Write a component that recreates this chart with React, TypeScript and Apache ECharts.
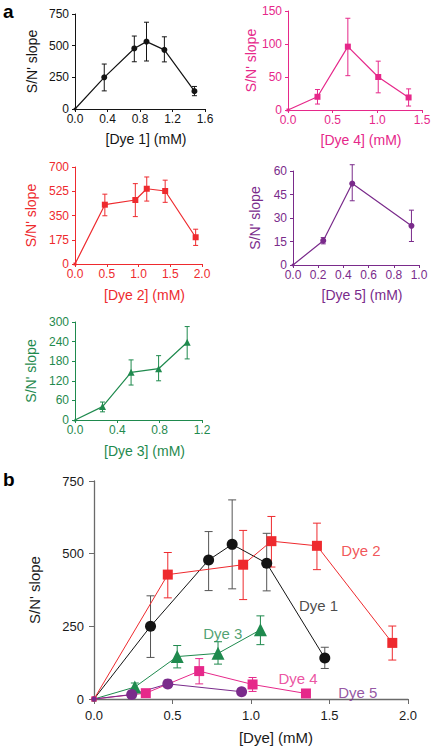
import React, { useEffect, useRef } from "react";
import * as echarts from "echarts";

const FONT = "'Liberation Sans', Arial, Helvetica, sans-serif";

// ---- data (concentration in mM, S/N' slope) ----
const dye1X = [0, 0.36, 0.73, 0.88, 1.1, 1.47];
const dye1Y = [0, 250, 478, 532, 467, 141];
const dye1Lo = [0, 143, 373, 379, 372, 105];
const dye1Hi = [0, 355, 576, 685, 570, 178];

const dye2X = [0, 0.47, 0.95, 1.13, 1.42, 1.9];
const dye2Y = [0, 428, 462, 543, 527, 193];
const dye2Lo = [0, 348, 342, 454, 445, 134];
const dye2Hi = [0, 504, 580, 628, 605, 251];

const dye3X = [0, 0.26, 0.53, 0.79, 1.06];
const dye3Y = [0, 41, 146, 157, 238];
const dye3Lo = [0, 25, 107, 120, 187];
const dye3Hi = [0, 55, 184, 197, 286];

const dye4X = [0, 0.33, 0.67, 1.01, 1.35];
const dye4Y = [0, 20, 96, 50, 19];
const dye4Lo = [0, 9, 52, 26, 6];
const dye4Hi = [0, 31, 139, 74, 32];

const dye5X = [0, 0.24, 0.47, 0.94];
const dye5Y = [0, 15.5, 52, 25];
const dye5Lo = [0, 13.5, 41, 15];
const dye5Hi = [0, 17.5, 64, 35];

const dyeNames = ["Dye 1", "Dye 2", "Dye 3", "Dye 4", "Dye 5"];
const dyeColors = ["#141414", "#ee2a2e", "#1f8a4e", "#e6288a", "#7a2b8b"];
const dyeSymbols = ["circle", "rect", "triangle", "rect", "circle"];

// panel a axis ranges
const aXMax = [1.6, 2.0, 1.2, 1.5, 1.0];
const aXInterval = [0.4, 0.5, 0.4, 0.5, 0.2];
const aYMax = [750, 700, 300, 150, 60];
const aYInterval = [250, 175, 60, 50, 15];

// panel b label anchors (data units)
const bLabelX = [1.43, 1.7, 0.82, 1.3, 1.68];
const bLabelY = [323, 512, 227, 72, 24];

const dyes = [
  { x: dye1X, y: dye1Y, lo: dye1Lo, hi: dye1Hi },
  { x: dye2X, y: dye2Y, lo: dye2Lo, hi: dye2Hi },
  { x: dye3X, y: dye3Y, lo: dye3Lo, hi: dye3Hi },
  { x: dye4X, y: dye4Y, lo: dye4Lo, hi: dye4Hi },
  { x: dye5X, y: dye5Y, lo: dye5Lo, hi: dye5Hi },
];

// layout of panel a grids (order: dye1, dye2, dye3, dye4, dye5)
const aGrids = [
  { left: 75, top: 14, width: 130, height: 95, nameGapY: 36, nameGapX: 23 },
  { left: 75, top: 167, width: 127, height: 97, nameGapY: 37, nameGapX: 24 },
  { left: 75, top: 322, width: 127, height: 98, nameGapY: 37, nameGapX: 24 },
  { left: 288, top: 11, width: 134, height: 99, nameGapY: 29, nameGapX: 23 },
  { left: 293, top: 171, width: 126, height: 94, nameGapY: 31, nameGapX: 23 },
];

const errRender = (cap: number, color: string, width: number) => (params: any, api: any) => {
  const x = api.value(0);
  const lo = api.value(1);
  const hi = api.value(2);
  const a = api.coord([x, hi]);
  const b = api.coord([x, lo]);
  const style = { stroke: color, lineWidth: width };
  return {
    type: "group",
    children: [
      { type: "line", shape: { x1: a[0], y1: a[1], x2: b[0], y2: b[1] }, style },
      { type: "line", shape: { x1: a[0] - cap, y1: a[1], x2: a[0] + cap, y2: a[1] }, style },
      { type: "line", shape: { x1: b[0] - cap, y1: b[1], x2: b[0] + cap, y2: b[1] }, style },
    ],
  };
};

export default function App() {
  const ref = useRef<HTMLDivElement>(null);
  useEffect(() => {
    document.body.style.margin = "0";
    const chart = echarts.init(ref.current!, null, { renderer: "svg" });

    const grid: any[] = [];
    const xAxis: any[] = [];
    const yAxis: any[] = [];
    const series: any[] = [];

    dyes.forEach((d, i) => {
      const g = aGrids[i];
      const c = dyeColors[i];
      grid.push({ left: g.left, top: g.top, width: g.width, height: g.height, containLabel: false, outerBoundsMode: "none" });
      xAxis.push({
        type: "value",
        gridIndex: i,
        min: 0,
        max: aXMax[i],
        interval: aXInterval[i],
        name: "[" + dyeNames[i] + "] (mM)",
        nameLocation: "middle",
        nameGap: g.nameGapX,
        nameTextStyle: { color: c, fontSize: 14, fontFamily: FONT, padding: [0, 0, 0, 12] },
        axisLine: { show: true, onZero: false, lineStyle: { color: c, width: 1 } },
        axisTick: { show: true, length: 3, lineStyle: { color: c } },
        axisLabel: { color: c, fontSize: 12, fontFamily: FONT, margin: 4, formatter: (v: number) => v.toFixed(1) },
        splitLine: { show: false },
      });
      yAxis.push({
        type: "value",
        gridIndex: i,
        min: 0,
        max: aYMax[i],
        interval: aYInterval[i],
        name: "S/N' slope",
        nameLocation: "middle",
        nameRotate: 90,
        nameGap: g.nameGapY,
        nameTextStyle: { color: c, fontSize: 14, fontFamily: FONT },
        axisLine: { show: true, onZero: false, lineStyle: { color: c, width: 1 } },
        axisTick: { show: true, length: 3, lineStyle: { color: c } },
        axisLabel: { color: c, fontSize: 12, fontFamily: FONT, margin: 6 },
        splitLine: { show: false },
      });
      series.push({
        type: "custom",
        xAxisIndex: i,
        yAxisIndex: i,
        silent: true,
        z: 1,
        renderItem: errRender(2.5, c, 1),
        encode: { x: 0, y: [1, 2] },
        data: d.x.map((xv, k) => [xv, d.lo[k], d.hi[k]]).slice(1),
      });
      series.push({
        type: "line",
        xAxisIndex: i,
        yAxisIndex: i,
        z: 2,
        symbol: dyeSymbols[i],
        symbolSize: (_v: any, p: any) => (p.dataIndex === 0 ? 3 : dyeSymbols[i] === "triangle" ? 7 : 6),
        showSymbol: true,
        lineStyle: { color: c, width: 1.2 },
        itemStyle: { color: c },
        data: d.x.map((xv, k) => [xv, d.y[k]]),
      });
    });

    // panel b
    const bi = 5;
    const axisGray = "#6a6a6a";
    grid.push({ left: 94, top: 481, width: 314, height: 218, containLabel: false, outerBoundsMode: "none" });
    xAxis.push({
      type: "value",
      gridIndex: bi,
      min: 0,
      max: 2,
      interval: 0.5,
      name: "[Dye] (mM)",
      nameLocation: "middle",
      nameGap: 31,
      nameTextStyle: { color: "#1a1a1a", fontSize: 15, fontFamily: FONT, padding: [0, 0, 0, 50] },
      axisLine: { show: true, onZero: false, lineStyle: { color: axisGray, width: 1.3 } },
      axisTick: { show: true, length: 5, lineStyle: { color: axisGray } },
      axisLabel: { color: "#1a1a1a", fontSize: 13, fontFamily: FONT, margin: 10, formatter: (v: number) => v.toFixed(1) },
      splitLine: { show: false },
    });
    yAxis.push({
      type: "value",
      gridIndex: bi,
      min: 0,
      max: 750,
      interval: 250,
      name: "S/N' slope",
      nameLocation: "middle",
      nameRotate: 90,
      nameGap: 52,
      nameTextStyle: { color: "#1a1a1a", fontSize: 15, fontFamily: FONT },
      axisLine: { show: true, onZero: false, lineStyle: { color: axisGray, width: 1.3 } },
      axisTick: { show: true, length: 5, lineStyle: { color: axisGray } },
      axisLabel: { color: "#1a1a1a", fontSize: 13, fontFamily: FONT, margin: 10 },
      splitLine: { show: false },
    });
    dyes.forEach((d, i) => {
      const c = dyeColors[i];
      series.push({
        type: "custom",
        xAxisIndex: bi,
        yAxisIndex: bi,
        silent: true,
        z: 1,
        renderItem: errRender(4, i === 0 ? "#555555" : c, 1),
        encode: { x: 0, y: [1, 2] },
        data: d.x.map((xv, k) => [xv, d.lo[k], d.hi[k]]).slice(1),
      });
    });
    dyes.forEach((d, i) => {
      const c = dyeColors[i];
      series.push({
        type: "line",
        xAxisIndex: bi,
        yAxisIndex: bi,
        z: 3,
        symbol: dyeSymbols[i],
        symbolSize: (_v: any, p: any) =>
          p.dataIndex === 0 ? 5 : dyeSymbols[i] === "triangle" ? 13 : dyeSymbols[i] === "rect" ? 10 : 11,
        showSymbol: true,
        lineStyle: { color: c, width: 1 },
        itemStyle: { color: c },
        data: d.x.map((xv, k) => [xv, d.y[k]]),
      });
    });
    series.push({
      type: "scatter",
      xAxisIndex: bi,
      yAxisIndex: bi,
      silent: true,
      symbolSize: 0,
      z: 4,
      data: bLabelX.map((xv, k) => ({
        value: [xv, bLabelY[k]],
        label: {
          show: true,
          position: "inside",
          formatter: dyeNames[k],
          color: dyeColors[k] === "#141414" ? "#1a1a1a" : dyeColors[k],
          fontSize: 15,
          fontFamily: FONT,
        },
      })),
    });

    chart.setOption({
      animation: false,
      backgroundColor: "#ffffff",
      grid,
      xAxis,
      yAxis,
      series,
      graphic: [
        { type: "text", left: 3, top: 2, style: { text: "a", fontSize: 19, fontWeight: "bold", fontFamily: FONT, fill: "#000" } },
        { type: "text", left: 3, top: 470, style: { text: "b", fontSize: 19, fontWeight: "bold", fontFamily: FONT, fill: "#000" } },
      ],
    });
    return () => chart.dispose();
  }, []);
  return <div ref={ref} style={{ width: 431, height: 750 }} />;
}
